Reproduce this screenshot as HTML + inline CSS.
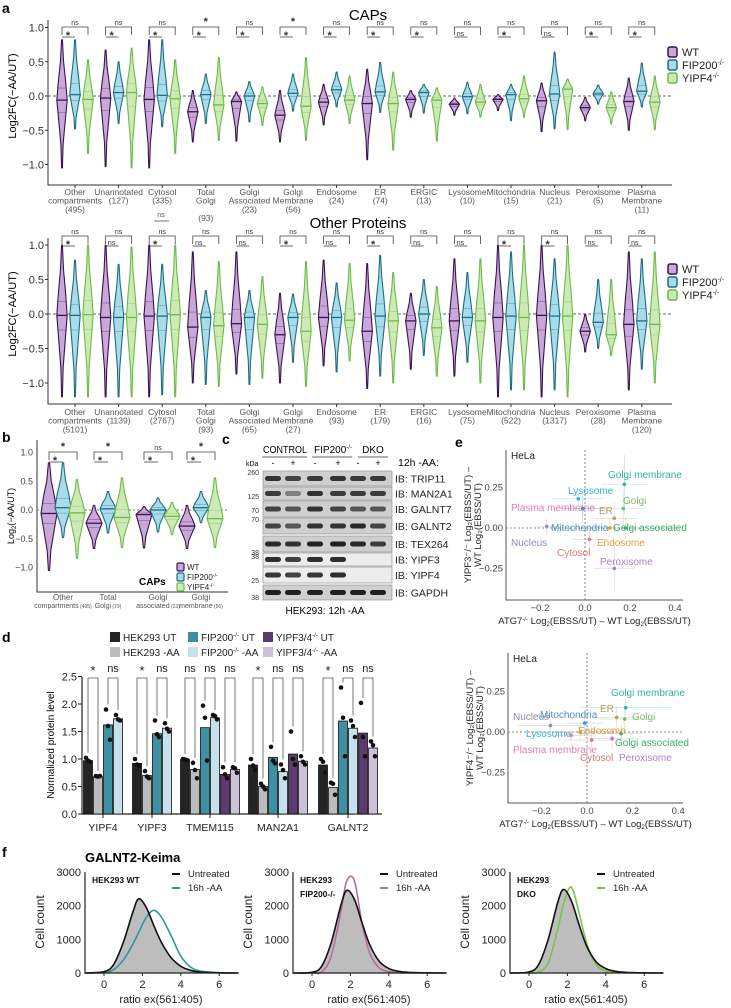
<!DOCTYPE html>
<html><head><meta charset="utf-8">
<style>
html,body{margin:0;padding:0;background:#fff;}
svg{display:block;font-family:"Liberation Sans",Arial,sans-serif;}
</style></head>
<body>
<svg id="fig" width="731" height="1008" viewBox="0 0 731 1008">
<rect x="0" y="0" width="731" height="1008" fill="#fff"/>
<text x="2" y="13" font-size="14" font-weight="bold">a</text>
<text x="2" y="442" font-size="14" font-weight="bold">b</text>
<text x="222" y="444" font-size="14" font-weight="bold">c</text>
<text x="2" y="642" font-size="14" font-weight="bold">d</text>
<text x="455" y="447" font-size="14" font-weight="bold">e</text>
<text x="2" y="857" font-size="14" font-weight="bold">f</text>
<text x="368" y="20" font-size="15" text-anchor="middle">CAPs</text>
<text x="358" y="228" font-size="15" text-anchor="middle">Other Proteins</text>
<text transform="translate(16,96) rotate(-90)" font-size="11" text-anchor="middle">Log2FC(−AA/UT)</text>
<text transform="translate(16,314) rotate(-90)" font-size="11" text-anchor="middle">Log2FC(−AA/UT)</text>
<text x="161" y="217" font-size="7" fill="#555" text-anchor="middle">ns</text>
<line x1="154" y1="221" x2="169" y2="221" stroke="#555" stroke-width="0.8"/>
<text transform="translate(14,516) rotate(-90)" font-size="9" text-anchor="middle">Log<tspan font-size="6" dy="2">2</tspan><tspan dy="-2">(−AA/UT)</tspan></text>
<text x="139" y="585" font-size="10" font-weight="bold">CAPs</text>
<text x="285" y="453" font-size="10" text-anchor="middle" textLength="44" lengthAdjust="spacingAndGlyphs">CONTROL</text>
<text x="333" y="453" font-size="10" text-anchor="middle">FIP200<tspan font-size="6" dy="-4">-/-</tspan></text>
<text x="373" y="453" font-size="10" text-anchor="middle">DKO</text>
<line x1="262" y1="457" x2="307" y2="457" stroke="#333" stroke-width="0.8"/>
<line x1="312" y1="457" x2="352" y2="457" stroke="#333" stroke-width="0.8"/>
<line x1="358" y1="457" x2="388" y2="457" stroke="#333" stroke-width="0.8"/>
<text x="246" y="466" font-size="7">kDa</text>
<text x="398" y="466" font-size="10.5">12h -AA:</text>
<text x="325" y="614" font-size="10" text-anchor="middle">HEK293: 12h -AA</text>
<text transform="translate(54,745) rotate(-90)" font-size="10" text-anchor="middle">Normalized protein level</text>
<text x="85" y="862" font-size="13" font-weight="bold">GALNT2-Keima</text>
<g id="root"></g>
</svg>
<script>
const NS='http://www.w3.org/2000/svg';
const root=document.getElementById('root');
function mk(tag,attrs,parent){const e=document.createElementNS(NS,tag);for(const k in attrs)e.setAttribute(k,attrs[k]);(parent||root).appendChild(e);return e;}
function tx(x,y,s,attrs,parent){const e=mk('text',Object.assign({x:x,y:y},attrs||{}),parent);e.textContent=s;return e;}

/* ================= PANEL A DATA ================= */
const catsA=['Other compartments','Unannotated','Cytosol','Total Golgi','Golgi Associated','Golgi Membrane','Endosome','ER','ERGIC','Lysosome','Mitochondria','Nucleus','Peroxisome','Plasma Membrane'];
const capsLabels=[['Other','compartments','(495)'],['Unannotated','(127)'],['Cytosol','(335)'],['Total','Golgi','','(93)'],['Golgi','Associated','(23)'],['Golgi','Membrane','(56)'],['Endosome','(24)'],['ER','(74)'],['ERGIC','(13)'],['Lysosome','(10)'],['Mitochondria','(15)'],['Nucleus','(21)'],['Peroxisome','(5)'],['Plasma','Membrane','(11)']];
const otherLabels=[['Other','compartments','(5101)'],['Unannotated','(1139)'],['Cytosol','(2767)'],['Total','Golgi','(93)'],['Golgi','Associated','(65)'],['Golgi','Membrane','(27)'],['Endosome','(93)'],['ER','(179)'],['ERGIC','(16)'],['Lysosome','(75)'],['Mitochondria','(522)'],['Nucleus','(1317)'],['Peroxisome','(28)'],['Plasma','Membrane','(120)']];
const capsWT=[[-1.05,-0.06,0.82],[-1.03,-0.03,0.67],[-1.05,-0.05,0.82],[-0.67,-0.23,0.08],[-0.66,-0.08,0.06],[-0.67,-0.28,0.08],[-0.42,-0.09,0.17],[-0.93,-0.11,0.39],[-0.31,-0.05,0.08],[-0.28,-0.12,-0.03],[-0.21,-0.05,0.02],[-0.52,-0.07,0.19],[-0.36,-0.17,-0.02],[-0.5,-0.08,0.26]];
const capsFIP=[[-0.48,0.02,0.82],[-0.4,0.05,0.5],[-0.45,0.01,0.82],[-0.4,0.02,0.32],[-0.38,0.0,0.21],[-0.22,0.04,0.32],[-0.16,0.09,0.35],[-0.24,0.06,0.49],[-0.25,0.05,0.17],[-0.26,-0.01,0.2],[-0.36,0.02,0.17],[-0.48,0.03,0.64],[-0.12,0.03,0.16],[-0.16,0.07,0.48]];
const capsYIPF=[[-0.84,-0.05,0.53],[-1.05,0.05,0.7],[-0.84,-0.04,0.53],[-0.65,-0.13,0.56],[-0.43,-0.11,0.13],[-0.65,-0.15,0.56],[-0.4,-0.06,0.29],[-0.79,-0.11,0.35],[-0.66,-0.06,0.12],[-0.31,-0.09,0.17],[-0.31,-0.04,0.29],[-0.49,0.1,0.25],[-0.41,-0.17,0.06],[-0.49,-0.09,0.29]];
const otherWT=[[-1.2,-0.02,1.0],[-1.2,-0.05,1.0],[-1.2,-0.03,1.0],[-1.0,-0.19,0.9],[-0.87,-0.14,0.9],[-1.0,-0.3,0.3],[-0.75,-0.05,0.78],[-1.08,-0.25,0.73],[-0.8,-0.1,0.3],[-0.9,-0.1,0.8],[-1.2,-0.05,1.0],[-1.2,-0.02,1.0],[-0.55,-0.25,0.0],[-1.1,-0.15,0.9]];
const otherFIP=[[-1.2,-0.02,0.78],[-1.2,-0.05,0.72],[-1.17,-0.03,0.72],[-1.02,-0.05,0.34],[-1.02,-0.05,0.34],[-0.7,-0.05,0.29],[-0.84,-0.05,0.45],[-0.9,-0.03,0.85],[-0.6,0.0,0.5],[-0.7,-0.05,0.6],[-1.1,-0.03,0.9],[-1.1,-0.03,0.8],[-0.5,-0.12,0.5],[-0.8,-0.1,0.8]];
const otherYIPF=[[-1.2,-0.01,1.0],[-1.2,-0.05,0.97],[-1.2,-0.01,1.0],[-1.05,-0.17,0.76],[-0.93,-0.15,0.54],[-1.05,-0.25,0.76],[-0.68,-0.09,0.73],[-1.0,-0.1,0.6],[-0.9,-0.2,0.4],[-1.0,-0.1,0.8],[-1.1,-0.05,1.0],[-1.2,-0.03,1.0],[-0.6,-0.3,0.5],[-1.0,-0.15,0.9]];
const capsOuterSig=['ns','ns','ns','*','ns','*','ns','ns','ns','ns','ns','ns','ns','ns'];
const capsInnerSig=['*','*','*','*','*','*','*','*','*','ns','*','ns','*','*'];
const otherOuterSig=['ns','ns','ns','ns','ns','ns','ns','ns','ns','ns','ns','ns','ns','ns'];
const otherInnerSig=['*','ns','*','ns','ns','*','ns','*','ns','ns','*','*','ns','ns'];
const yTicksA=[1.0,0.5,0.0,-0.5,-1.0];
const yTickLabelsA=['1.0','0.5','0.0','−0.5','−1.0'];

const geno=[{fill:'#c9a7d8',stroke:'#3a1450',name:'wt'},{fill:'#a9dbeb',stroke:'#1b6f82',name:'fip200'},{fill:'#cde9b5',stroke:'#6cbb4a',name:'yipf4'}];

function violin(parent,cx,d,hw,g,ys){
  const mn=d[0],md=d[1],mx=d[2];
  const vs=[mn,mn+(md-mn)*0.35,mn+(md-mn)*0.75,md,md+(mx-md)*0.3,md+(mx-md)*0.65,mx];
  const ws=[0.08,0.22,0.7,1,0.72,0.28,0.08];
  let pts=[];
  for(let i=0;i<vs.length;i++)pts.push((cx-ws[i]*hw).toFixed(1)+','+ys(vs[i]).toFixed(1));
  for(let i=vs.length-1;i>=0;i--)pts.push((cx+ws[i]*hw).toFixed(1)+','+ys(vs[i]).toFixed(1));
  const p=mk('polygon',{points:pts.join(' '),fill:g.fill,stroke:g.stroke,'stroke-width':1.1,'stroke-linejoin':'round'},parent);
  
  
  const m=mk('line',{x1:cx-hw*0.98,x2:cx+hw*0.98,y1:ys(md),y2:ys(md),stroke:g.stroke,'stroke-width':1.3},parent);
  
  
  const q1=md-(md-mn)*0.18,q3=md+(mx-md)*0.2;
  [q1,q3].forEach(q=>{
    const l=mk('line',{x1:cx-hw*0.8,x2:cx+hw*0.8,y1:ys(q),y2:ys(q),stroke:g.stroke,'stroke-width':0.5,opacity:0.6},parent);
    
    
  });
}
function bracket(parent,x1,x2,x3,yTop,outer,inner){
  const o=mk('path',{d:`M${x1},${yTop+8}V${yTop}H${x3}V${yTop+8}`,fill:'none',stroke:'#444','stroke-width':0.8},parent);
  
  
  const ot=tx((x1+x3)/2,yTop-2,outer,{'font-size':outer==='*'?11:7,'text-anchor':'middle',fill:'#333','font-weight':outer==='*'?'bold':'normal'},parent);
  
  
  const i=mk('line',{x1:x1,x2:x2,y1:yTop+10,y2:yTop+10,stroke:'#444','stroke-width':0.8},parent);
  
  
  const it=tx(x1+6,yTop+(inner==='*'?12:9),inner,{'font-size':inner==='*'?11:7,'text-anchor':'middle',fill:'#333','font-weight':inner==='*'?'bold':'normal'},parent);
  
  
}

function violinPanel(name,y0,scale,axTop,axBottom,labels,WT,FIP,YI,outerSig,innerSig,brY,labY,lineH,legY){
  const g=mk('g',{});
  
  
  const ys=v=>y0-v*scale;
  const cx=i=>75+i*43.6;
  const ax=mk('path',{d:`M48,${axTop}V${axBottom}H672`,fill:'none',stroke:'#333','stroke-width':1},g);
  
  
  yTicksA.forEach((t,k)=>{
    const tl=tx(44,ys(t)+4,yTickLabelsA[k],{'font-size':11,'text-anchor':'end',fill:'#333'},g);
    
    
    const tk=mk('line',{x1:45,x2:48,y1:ys(t),y2:ys(t),stroke:'#333'},g);
    
    
  });
  const z=mk('line',{x1:48,x2:672,y1:ys(0),y2:ys(0),stroke:'#333','stroke-dasharray':'3,2','stroke-width':0.8},g);
  
  
  for(let i=0;i<14;i++){
    const c=cx(i);
    violin(g,c-13,WT[i],5.2,geno[0],ys);
    violin(g,c,FIP[i],5.2,geno[1],ys);
    violin(g,c+13,YI[i],5.2,geno[2],ys);
    bracket(g,c-13,c,c+13,brY,outerSig[i],innerSig[i]);
    labels[i].forEach((s,k)=>{
      if(!s)return;
      const t=tx(c,labY+k*lineH,s,{'font-size':8.5,'text-anchor':'middle',fill:'#555'},g);
      
      
    });
    const tk=mk('line',{x1:c,x2:c,y1:axBottom,y2:axBottom+3,stroke:'#333'},g);
    
    
  }
  const leg=['WT','FIP200','YIPF4'];
  leg.forEach((s,k)=>{
    const r=mk('rect',{x:668,y:legY+k*13-8,width:9,height:10,rx:2,fill:geno[k].fill,stroke:geno[k].stroke,'stroke-width':1.5},g);
    
    
    const t=tx(682,legY+k*13+1,s,{'font-size':11,fill:'#222'},g);
    
    
    if(k>0){const sp=mk('tspan',{'font-size':7,dy:-4},t);sp.textContent='-/-';}
  });
}
violinPanel('caps',96,68.5,20,185,capsLabels,capsWT,capsFIP,capsYIPF,capsOuterSig,capsInnerSig,27,195,8.7,55);
violinPanel('other',314,69,238,404,otherLabels,otherWT,otherFIP,otherYIPF,otherOuterSig,otherInnerSig,236,415,8.7,272);

/* ================= PANEL B ================= */
const catsB=['Other compartments (495)','Total Golgi (79)','Golgi associated (23)','Golgi membrane (56)'];
const bWT=[[-1.05,-0.06,0.82],[-0.67,-0.23,0.08],[-0.66,-0.08,0.06],[-0.67,-0.28,0.08]];
const bFIP=[[-0.48,0.04,0.82],[-0.4,0.02,0.32],[-0.38,0.0,0.21],[-0.22,0.04,0.32]];
const bYIPF=[[-0.84,-0.05,0.53],[-0.65,-0.13,0.56],[-0.43,-0.11,0.13],[-0.65,-0.15,0.56]];
const bOuterSig=['*','*','ns','*'];
const bInnerSig=['*','*','*','*'];
const bLabels=[['Other','compartments','(495)'],['Total','Golgi','(79)'],['Golgi','associated','(23)'],['Golgi','membrane','(56)']];
(function(){
  const g=mk('g',{});
  
  
  const ys=v=>510-v*57.5;
  const cx=[63,108,158,201];
  const ax=mk('path',{d:'M37,440V592H228',fill:'none',stroke:'#333'},g);
  
  
  yTicksA.forEach((t,k)=>{
    const tl=tx(33,ys(t)+3,yTickLabelsA[k],{'font-size':9,'text-anchor':'end',fill:'#444'},g);
    
    
  });
  const z=mk('line',{x1:37,x2:228,y1:ys(0),y2:ys(0),stroke:'#777','stroke-dasharray':'2,2'},g);
  
  
  for(let i=0;i<4;i++){
    const c=cx[i];
    violin(g,c-14,bWT[i],8,geno[0],ys);
    violin(g,c,bFIP[i],8,geno[1],ys);
    violin(g,c+14,bYIPF[i],8,geno[2],ys);
    bracket(g,c-14,c,c+14,452,bOuterSig[i],bInnerSig[i]);
    const t1=tx(c,600,bLabels[i][0],{'font-size':8,'text-anchor':'middle',fill:'#555'},g);
    
    
    const t2=tx(c,608,bLabels[i][1],{'font-size':7,'text-anchor':'middle',fill:'#555'},g);
    
    
    const sp=mk('tspan',{'font-size':5},t2);sp.textContent=' '+bLabels[i][2];
  }
  ['WT','FIP200','YIPF4'].forEach((s,k)=>{
    const r=mk('rect',{x:177,y:563+k*10,width:7,height:8,rx:1.5,fill:geno[k].fill,stroke:geno[k].stroke,'stroke-width':1.2},g);
    
    
    const t=tx(187,570+k*10,s,{'font-size':8,fill:'#222'},g);
    
    
    if(k>0){const sp=mk('tspan',{'font-size':5,dy:-3},t);sp.textContent='-/-';}
  });
})();

/* ================= PANEL C (blot) ================= */
const blotRows=['TRIP11','MAN2A1','GALNT7','GALNT2','TEX264','YIPF3','YIPF4','GAPDH'];
const blotIntensity=[[0.9,0.8,0.85,0.9,0.85,0.85],[0.85,0.45,0.9,0.85,0.85,0.85],[0.8,0.7,0.9,0.8,0.7,0.7],[0.8,0.7,0.9,0.9,0.95,0.8],[0.95,0.9,1,1,0.95,0.85],[0.95,0.85,0.95,0.95,0,0],[0.9,0.85,0.9,0.95,0,0],[1,1,1,1,1,1]];
const blotMarkers=[['260',472],['125',496],['70',510],['70',519],['38',552],['38',556],['25',580],['38',597]];
const laneSign=['-','+','-','+','-','+'];
(function(){
  const g=mk('g',{});
  
  
  const tops=[471,487,501,518,536,553,567,585],bots=[486,500,517,534,552,566,583,600];
  const lanes=[273,293,315,338,358,378];
  lanes.forEach((x,k)=>{
    const t=tx(x,466,laneSign[k],{'font-size':9,'text-anchor':'middle'},g);
    
    
  });
  blotRows.forEach((r,i)=>{
    const bg=mk('rect',{x:263,y:tops[i],width:129,height:bots[i]-tops[i],fill:(i>=5&&i<=6)?'#ececec':'#cfcfcf',stroke:'#888','stroke-width':0.6},g);
    
    
    lanes.forEach((x,k)=>{
      const v=blotIntensity[i][k];
      if(v<=0)return;
      const b=mk('rect',{x:x-8,y:(tops[i]+bots[i])/2-2.5,width:16,height:5,rx:2.5,fill:'#111','fill-opacity':v*0.92},g);
      
      
    });
    const t=tx(395,(tops[i]+bots[i])/2+4,'IB: '+r,{'font-size':10.5,fill:'#222'},g);
    
    
  });
  blotMarkers.forEach(m=>{
    const t=tx(259,m[1]+3,m[0],{'font-size':7,'text-anchor':'end',fill:'#333'},g);
    
    
  });
})();

/* ================= PANEL D (bars) ================= */
const dGenes=['YIPF4','YIPF3','TMEM115','MAN2A1','GALNT2'];
const dMeans=[[0.97,0.68,1.62,1.73],[0.92,0.70,1.46,1.56],[0.99,0.81,1.57,1.75,0.72,0.81],[0.89,0.50,1.03,0.77,1.09,0.96],[0.89,0.48,1.69,1.56,1.47,1.20]];
const dDots=[[[1.02,0.97,0.95],[0.69,0.68,0.69],[1.9,1.6,1.35],[1.8,1.72,1.7]],[[1.0,0.9,0.88],[0.78,0.68,0.65],[1.7,1.45,1.4],[1.65,1.55,1.5]],[[1.0,0.99,0.98],[0.93,0.8,0.65],[1.97,1.75,0.97],[1.8,1.78,1.72],[0.85,0.72,0.65],[0.85,0.83,0.75]],[[1.0,0.88,0.8],[0.55,0.5,0.45],[1.22,0.97,0.92],[0.9,0.8,0.65],[1.5,1.0,0.9],[1.05,0.95,0.9]],[[1.0,0.95,0.75],[0.57,0.55,0.35],[2.3,1.75,1.05],[1.7,1.6,1.4],[2.02,1.4,1.05],[1.32,1.25,1.05]]];
const dSig=[['*','ns'],['*','ns'],['ns','ns','ns'],['*','ns','ns'],['*','ns','ns']];
const dTicks=[0,0.5,1.0,1.5,2.0,2.5];
const dTickLabels=['0.0','0.5','1.0','1.5','2.0','2.5'];
const dLegend=['HEK293 UT','HEK293 -AA','FIP200 UT','FIP200 -AA','YIPF3/4 UT','YIPF3/4 -AA'];
(function(){
  const g=mk('g',{});
  
  
  const ys=v=>814-v*55;
  const cols=['#242424','#bcbcbc','#3f90a2','#c6e1eb','#5c3a6e','#cbc2da'];
  const groupStart=[88,137,185,253,323];
  const ax=mk('path',{d:'M82,677V814H382',fill:'none',stroke:'#222','stroke-width':1.2},g);
  
  
  dTicks.forEach((t,k)=>{
    const tl=tx(77,ys(t)+4,dTickLabels[k],{'font-size':11,'text-anchor':'end',fill:'#222'},g);
    
    
    const tk=mk('line',{x1:78,x2:82,y1:ys(t),y2:ys(t),stroke:'#222'},g);
    
    
  });
  dGenes.forEach((gn,i)=>{
    const xs=dMeans[i].map((v,k)=>groupStart[i]+k*10);
    dMeans[i].forEach((v,k)=>{
      const b=mk('rect',{x:xs[k]-4.5,y:ys(v),width:9,height:814-ys(v),fill:cols[k],stroke:'#111','stroke-width':0.8},g);
      
      
      dDots[i][k].forEach((dv,j)=>{
        const c=mk('circle',{cx:xs[k]+(j-1)*2,cy:ys(dv),r:2.3,fill:'#111'},g);
        
        
      });
    });
    dSig[i].forEach((s,p)=>{
      const a=xs[p*2],b2=xs[p*2+1];
      const top=Math.max(...dDots[i][p*2]),top2=Math.max(...dDots[i][p*2+1]);
      const br=mk('path',{d:`M${a},${ys(top)-5}V678H${b2}V${ys(top2)-5}`,fill:'none',stroke:'#555','stroke-width':0.8},g);
      
      
      const t=tx((a+b2)/2,s==='*'?675:672,s,{'font-size':s==='*'?13:11,'text-anchor':'middle',fill:'#222'},g);
      
      
    });
    const cx=(xs[0]+xs[xs.length-1])/2;
    const tl=tx(cx,831,gn,{'font-size':10.5,'text-anchor':'middle',fill:'#222'},g);
    
    
    const tk=mk('line',{x1:cx,x2:cx,y1:814,y2:818,stroke:'#222'},g);
    
    
  });
  const lx=[110,110,188,188,263,263],ly=[640,655,640,655,640,655];
  dLegend.forEach((s,k)=>{
    const r=mk('rect',{x:lx[k],y:ly[k]-8,width:10,height:10,fill:cols[k]},g);
    
    
    const parts=s.split(' ');
    const t=tx(lx[k]+13,ly[k]+1,parts[0],{'font-size':10,fill:'#222'},g);
    
    
    if(k>=2){const sp=mk('tspan',{'font-size':6,dy:-4},t);sp.textContent='-/-';const sp2=mk('tspan',{dy:4},t);sp2.textContent=' '+parts[1];}
    else{const sp2=mk('tspan',{},t);sp2.textContent=' '+parts[1];}
  });
})();

/* ================= PANEL E (scatter) ================= */
const eNames=['Golgi membrane','Lysosome','Golgi','Plasma membrane','ER','Mitochondria','Golgi associated','Nucleus','Endosome','Cytosol','Peroxisome'];
const eColors=['#2fb39b','#35b3d6','#7dbb6e','#e07fae','#b0a15c','#4a8ec8','#3aae6e','#8a8fb2','#d6a040','#d9777c','#b07fc3'];
const eUpperX=[0.175,-0.03,0.17,-0.01,0.13,-0.01,0.18,-0.17,0.11,0.02,0.13];
const eUpperY=[0.27,0.18,0.12,0.12,0.06,0.12,0.0,0.01,0.0,-0.07,-0.25];
const eUpperXErr=[0.1,0.12,0.1,0.11,0.1,0.09,0.22,0.05,0.1,0.08,0.09];
const eUpperYErr=[0.18,0.05,0.12,0.06,0.1,0.09,0.07,0.05,0.06,0.09,0.14];
const eLowerX=[0.17,-0.07,0.165,-0.07,0.13,-0.01,0.15,-0.16,-0.03,0.02,0.11];
const eLowerY=[0.15,-0.02,0.08,-0.02,0.09,0.055,-0.01,0.04,0.0,-0.05,-0.04];
const eLowerXErr=[0.2,0.09,0.12,0.08,0.1,0.08,0.1,0.14,0.12,0.12,0.1];
const eLowerYErr=[0.05,0.03,0.06,0.04,0.07,0.08,0.05,0.04,0.05,0.08,0.07];
const eXTicks=[-0.2,0.0,0.2,0.4];
const eXTickLabels=['−0.2','0.0','0.2','0.4'];
const eYTicks=[0.25,0.0,-0.25];
const eYTickLabels=['0.25','0.00','−0.25'];
const eUpperLab=[[608,478],[568,494],[623,504],[511,511],[599,514],[551,531],[613,531],[511,546],[597,546],[557,556],[600,565]];
const eLowerLab=[[611,696],[526,737],[632,720],[513,753],[600,712],[540,718],[615,746],[513,720],[578,734],[580,761],[619,761]];
function scatter(name,X,Y,XE,YE,lab,ox,x0,sx,y0,sy,top,bottom,right,yLab1){
  const g=mk('g',{});
  
  
  const xs=v=>x0+v*sx, ys=v=>y0-v*sy;
  const ax=mk('path',{d:`M${ox},${top}V${bottom}H${right}`,fill:'none',stroke:'#555'},g);
  
  
  const vz=mk('line',{x1:xs(0),x2:xs(0),y1:top,y2:bottom,stroke:'#666','stroke-dasharray':'2,2','stroke-width':0.8},g);
  
  
  const hz=mk('line',{x1:ox,x2:right,y1:ys(0),y2:ys(0),stroke:'#666','stroke-dasharray':'2,2','stroke-width':0.8},g);
  
  
  eXTicks.forEach((t,k)=>{
    const tl=tx(xs(t),bottom+11,eXTickLabels[k],{'font-size':9.5,'text-anchor':'middle',fill:'#444'},g);
    
    
  });
  eYTicks.forEach((t,k)=>{
    const tl=tx(ox-3,ys(t)+3,eYTickLabels[k],{'font-size':9.5,'text-anchor':'end',fill:'#444'},g);
    
    
  });
  eNames.forEach((n,i)=>{
    const c=eColors[i];
    const eh=mk('line',{x1:xs(X[i]-XE[i]),x2:xs(X[i]+XE[i]),y1:ys(Y[i]),y2:ys(Y[i]),stroke:c,'stroke-width':0.6,opacity:0.4},g);
    
    
    const ev=mk('line',{x1:xs(X[i]),x2:xs(X[i]),y1:ys(Y[i]-YE[i]),y2:ys(Y[i]+YE[i]),stroke:c,'stroke-width':0.6,opacity:0.4},g);
    
    
    const p=mk('circle',{cx:xs(X[i]),cy:ys(Y[i]),r:1.8,fill:c},g);
    
    
    const t=tx(lab[i][0],lab[i][1],n,{'font-size':10,fill:c},g);
    
    
  });
  const h=tx(ox+5,top+9,'HeLa',{'font-size':10,fill:'#222'},g);
  
  
  const xl=tx((ox+right)/2,bottom+24,'ATG7',{'font-size':9.5,'text-anchor':'middle',fill:'#222'},g);
  
  
  [['tspan',{'font-size':6,dy:-3},'-/-'],['tspan',{dy:3},' Log'],['tspan',{'font-size':6,dy:2},'2'],['tspan',{dy:-2},'(EBSS/UT) – WT Log'],['tspan',{'font-size':6,dy:2},'2'],['tspan',{dy:-2},'(EBSS/UT)']].forEach(a=>{const s=mk(a[0],a[1],xl);s.textContent=a[2];});
  const cy=(top+bottom)/2;
  const y1=tx(0,0,yLab1,{'font-size':9.5,'text-anchor':'middle',fill:'#222',transform:`translate(${ox-35},${cy}) rotate(-90)`},g);
  
  
  const y2=tx(0,0,'WT Log₂(EBSS/UT)',{'font-size':9.5,'text-anchor':'middle',fill:'#222',transform:`translate(${ox-25},${cy}) rotate(-90)`},g);
  
  
}
scatter('e-upper-scatter',eUpperX,eUpperY,eUpperXErr,eUpperYErr,eUpperLab,506,585,225,528,162,450,600,683,'YIPF3⁻/⁻ Log₂(EBSS/UT) –');
scatter('e-lower-scatter',eLowerX,eLowerY,eLowerXErr,eLowerYErr,eLowerLab,508,587,228,732,162,653,803,683,'YIPF4⁻/⁻ Log₂(EBSS/UT) –');

/* ================= PANEL F (histograms) ================= */
const fX=[-1,0,0.5,1,1.5,1.8,2.2,2.6,3,3.5,4,4.5,5,6,7];
const fWtUT=[0,40,250,900,1800,2200,1950,1400,900,450,200,80,30,5,0];
const fWtAA=[0,10,100,380,850,1200,1650,1860,1650,1100,500,180,60,10,0];
const fFipUT=[0,20,200,900,2000,2450,2200,1500,850,350,130,50,20,5,0];
const fFipAA=[0,0,30,500,1800,2720,2750,1500,600,150,40,10,0,0,0];
const fDkoUT=[0,30,250,1000,2100,2480,2150,1450,800,330,130,50,20,5,0];
const fDkoAA=[0,0,30,300,1300,2050,2550,1800,900,250,60,15,5,0,0];
const fXTicks=[0,2,4,6];
const fYTicks=[0,1000,2000,3000];
function smooth(pts){
  let d='M'+pts[0][0]+','+pts[0][1];
  for(let i=0;i<pts.length-1;i++){
    const p0=pts[Math.max(0,i-1)],p1=pts[i],p2=pts[i+1],p3=pts[Math.min(pts.length-1,i+2)];
    const c1x=p1[0]+(p2[0]-p0[0])/6,c1y=p1[1]+(p2[1]-p0[1])/6,c2x=p2[0]-(p3[0]-p1[0])/6,c2y=p2[1]-(p3[1]-p1[1])/6;
    d+=`C${c1x.toFixed(1)},${c1y.toFixed(1)} ${c2x.toFixed(1)},${c2y.toFixed(1)} ${p2[0].toFixed(1)},${p2[1].toFixed(1)}`;
  }
  return d;
}
function hist(name,dx,UT,AA,color,l1,l2){
  const g=mk('g',{});
  
  
  const xs=v=>104+dx+v*19.2, ys=v=>973-v*0.0337;
  const ptsU=fX.map((x,i)=>[xs(x),ys(UT[i])]);
  const ptsA=fX.map((x,i)=>[xs(x),ys(AA[i])]);
  const fill=mk('path',{d:smooth(ptsU)+`L${xs(7)},973L${xs(-1)},973Z`,fill:'#bdbdbd',stroke:'none'},g);
  
  
  const la=mk('path',{d:smooth(ptsA),fill:'none',stroke:color,'stroke-width':1.6},g);
  
  
  const lu=mk('path',{d:smooth(ptsU),fill:'none',stroke:'#111','stroke-width':1.6},g);
  
  
  const ax=mk('path',{d:`M${85+dx},872V973H${238+dx}`,fill:'none',stroke:'#222','stroke-width':1.2},g);
  
  
  fXTicks.forEach(t=>{
    const tl=tx(xs(t),988,String(t),{'font-size':11,'text-anchor':'middle',fill:'#222'},g);
    
    
    const tk=mk('line',{x1:xs(t),x2:xs(t),y1:973,y2:976,stroke:'#222'},g);
    
    
  });
  fYTicks.forEach(t=>{
    const tl=tx(81+dx,ys(t)+4,String(t),{'font-size':11,'text-anchor':'end',fill:'#222'},g);
    
    
  });
  const xl=tx(161+dx,1003,'ratio ex(561:405)',{'font-size':11,'text-anchor':'middle',fill:'#222'},g);
  
  
  const yl=tx(0,0,'Cell count',{'font-size':12,'text-anchor':'middle',fill:'#222',transform:`translate(${44+dx},922) rotate(-90)`},g);
  
  
  const t1=tx(92+dx,883,l1,{'font-size':8.5,'font-weight':'bold',fill:'#111'},g);
  
  
  if(l2){const t2=tx(92+dx,897,l2,{'font-size':8.5,'font-weight':'bold',fill:'#111'},g);
    
    }
  const k1=mk('line',{x1:172+dx,x2:180+dx,y1:874,y2:874,stroke:'#111','stroke-width':2},g);
  
  
  const k1t=tx(188+dx,877,'Untreated',{'font-size':9.5,fill:'#222'},g);
  
  
  const k2=mk('line',{x1:172+dx,x2:180+dx,y1:888,y2:888,stroke:color,'stroke-width':2},g);
  
  
  const k2t=tx(188+dx,891,'16h -AA',{'font-size':9.5,fill:'#222'},g);
  
  
}
hist('f-hist-wt',0,fWtUT,fWtAA,'#2a9a98','HEK293 WT',null);
hist('f-hist-fip200',208,fFipUT,fFipAA,'#b36f9e','HEK293','FIP200-/-');
hist('f-hist-dko',425,fDkoUT,fDkoAA,'#7cc24a','HEK293','DKO');
</script>
</body></html>
